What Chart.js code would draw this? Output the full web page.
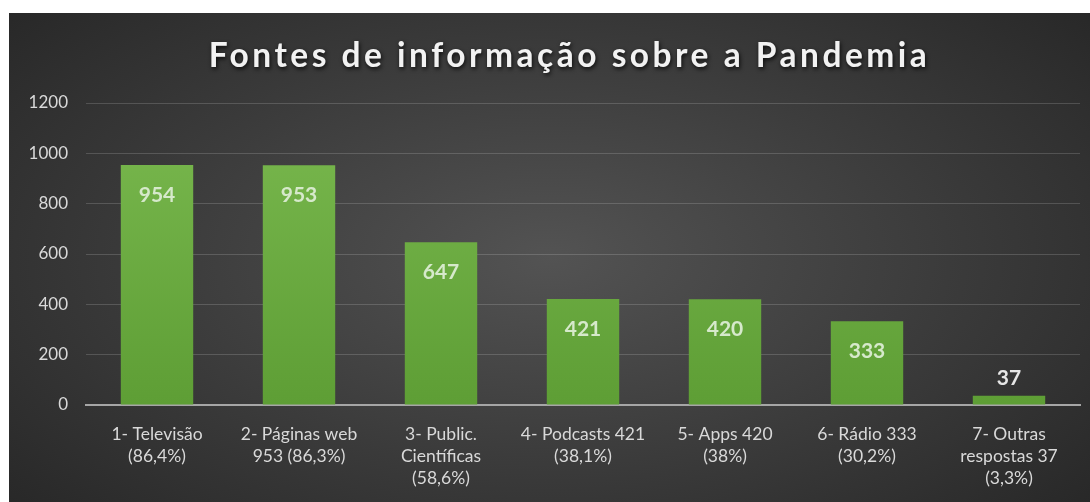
<!DOCTYPE html>
<html>
<head>
<meta charset="utf-8">
<script src="https://cdn.jsdelivr.net/npm/chart.js@4/dist/chart.umd.min.js"></script>
<style>
  html, body { margin: 0; padding: 0; background: #fff; }
  #wrap {
    position: absolute; left: 9px; top: 13px; width: 1081px; height: 489px;
    background: radial-gradient(ellipse 70% 80% at 50% 50%, #535353 0%, #3a3a3a 55%, #262626 100%);
  }
</style>
</head>
<body>
<div id="wrap"><canvas id="chart" width="1081" height="489"></canvas></div>
<script>
const titleText = 'Fontes de informação sobre a Pandemia';
const categories = [
  ['1- Televisão', '(86,4%)'],
  ['2- Páginas web', '953 (86,3%)'],
  ['3- Public.', 'Científicas', '(58,6%)'],
  ['4- Podcasts 421', '(38,1%)'],
  ['5- Apps 420', '(38%)'],
  ['6- Rádio 333', '(30,2%)'],
  ['7- Outras', 'respostas 37', '(3,3%)']
];
const counts = [954, 953, 647, 421, 420, 333, 37];
const yTicks = [0, 200, 400, 600, 800, 1000, 1200];

const FONT = 'Lato, "Open Sans", sans-serif';

const titlePlugin = {
  id: 'titlePlugin',
  afterDraw(chart) {
    const ctx = chart.ctx;
    ctx.save();
    ctx.font = 'bold 33.5px ' + FONT;
    ctx.letterSpacing = '3.5px';
    ctx.fillStyle = '#f2f2f2';
    ctx.textAlign = 'center';
    ctx.textBaseline = 'middle';
    ctx.shadowColor = 'rgba(0,0,0,0.8)';
    ctx.shadowBlur = 4;
    ctx.shadowOffsetX = 1;
    ctx.shadowOffsetY = 2;
    ctx.fillText(titleText, chart.width / 2 + 20, 43);
    ctx.restore();
  }
};

const valueLabels = {
  id: 'valueLabels',
  afterDatasetsDraw(chart) {
    const ctx = chart.ctx;
    const meta = chart.getDatasetMeta(0);
    ctx.save();
    ctx.font = 'bold 21px ' + FONT;
    ctx.textAlign = 'center';
    ctx.textBaseline = 'middle';
    meta.data.forEach((bar, i) => {
      const v = counts[i];
      const h = bar.base - bar.y;
      if (h > 50) {
        ctx.fillStyle = '#d6e9cb';
        ctx.fillText(v, bar.x, bar.y + 30);
      } else {
        ctx.fillStyle = '#e6e6e6';
        ctx.fillText(v, bar.x, bar.y - 17);
      }
    });
    ctx.restore();
  }
};

new Chart(document.getElementById('chart'), {
  type: 'bar',
  data: {
    labels: categories,
    datasets: [{
      data: counts,
      backgroundColor: (c) => {
        const area = c.chart.chartArea;
        if (!area) return '#6aaa40';
        const g = c.chart.ctx.createLinearGradient(0, area.top, 0, area.bottom);
        g.addColorStop(0, '#7ab94f');
        g.addColorStop(1, '#5e9e35');
        return g;
      },
      borderWidth: 0,
      categoryPercentage: 1,
      barPercentage: 0.51
    }]
  },
  options: {
    responsive: false,
    animation: false,
    events: [],
    layout: { padding: { top: 90, right: 10, left: 0, bottom: 0 } },
    plugins: { legend: { display: false }, tooltip: { enabled: false }, title: { display: false } },
    scales: {
      x: {
        grid: { display: false, drawTicks: false },
        border: { display: true, color: '#a6a6a6', width: 2 },
        ticks: { color: '#d9d9d9', font: { family: FONT, size: 17.5, lineHeight: 1.24 }, padding: 19, maxRotation: 0, autoSkip: false },
        afterFit(s) { s.height = 97; }
      },
      y: {
        min: 0, max: 1200,
        afterBuildTicks(s) { s.ticks = yTicks.map(v => ({ value: v })); },
        grid: { color: 'rgba(255,255,255,0.16)', lineWidth: 1, drawTicks: false },
        border: { display: false },
        ticks: { color: '#d9d9d9', font: { family: FONT, size: 17 }, padding: 18, callback: (v) => String(v) },
        afterFit(s) { s.width = 77; }
      }
    }
  },
  plugins: [titlePlugin, valueLabels]
});
</script>
</body>
</html>
